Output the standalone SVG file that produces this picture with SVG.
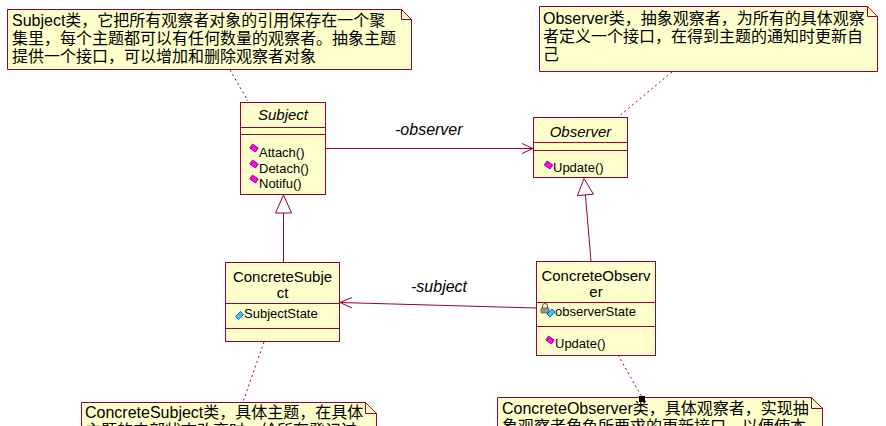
<svg xmlns="http://www.w3.org/2000/svg" width="886" height="426" viewBox="0 0 886 426">
<style>
.box{fill:#FFFFCC;stroke:#990033;stroke-width:1}
.ln{stroke:#990033;stroke-width:1;fill:none}
.dash{stroke:#990033;stroke-width:1;fill:none;stroke-dasharray:2,3}
.note{font-family:"Liberation Sans","Noto Sans CJK SC",sans-serif;font-size:16px;fill:#000}
.name{font-family:"Liberation Sans",Arial,sans-serif;font-size:15px;fill:#000;text-anchor:middle}
.abs{font-style:italic}
.mem{font-family:"Liberation Sans",Arial,sans-serif;font-size:13px;fill:#000}
.lbl{font-family:"Liberation Sans",Arial,sans-serif;font-size:16px;font-style:italic;fill:#000}
.op{fill:#FF00FF;stroke:#800060;stroke-width:0.8}
.at{fill:#33CCFF;stroke:#0044AA;stroke-width:0.8}
</style>
<defs>
<g id="opIcon"><rect x="-3.5" y="-2.4" width="7" height="4.8" transform="rotate(35)" class="op"/></g>
<g id="atIcon"><polygon points="-4,1 1,-4 4,-1 -1,4" class="at"/></g>
</defs>

<g id="connectors">
<line class="dash" x1="230" y1="70" x2="248" y2="101"/>
<line class="dash" x1="672" y1="72" x2="618" y2="117"/>
<line class="dash" x1="264" y1="342" x2="243" y2="402"/>
<line class="dash" x1="618" y1="355" x2="642" y2="397"/>
<rect x="616" y="351" width="4" height="4" fill="#000"/>
<line class="ln" x1="325" y1="148.5" x2="533" y2="148.5"/>
<polyline class="ln" points="522,143.5 533,148.5 522,153.5"/>
<text class="lbl" x="395" y="135">-observer</text>
<line class="ln" x1="536" y1="308" x2="340" y2="302.5"/>
<polyline class="ln" points="352,297.5 340,302.5 352,308"/>
<text class="lbl" x="411" y="292">-subject</text>
<polygon class="ln" points="283.5,195 275.5,213 291.5,213" fill="#fff"/>
<line class="ln" x1="283.5" y1="213" x2="283.5" y2="262"/>
<polygon class="ln" points="584,178.5 593.4,194.2 577.4,195.6" fill="#fff"/>
<line class="ln" x1="585.4" y1="194.9" x2="591" y2="261"/>
</g>

<g id="note-subject">
<polygon class="box" points="7.5,9.5 401.5,9.5 411.5,19.5 411.5,69.5 7.5,69.5"/>
<polyline class="ln" points="401.5,9.5 401.5,19.5 411.5,19.5"/>
<text class="note" x="12" y="26">Subject类，它把所有观察者对象的引用保存在一个聚</text>
<text class="note" x="12" y="44">集里，每个主题都可以有任何数量的观察者。抽象主题</text>
<text class="note" x="12" y="62">提供一个接口，可以增加和删除观察者对象</text>
</g>

<g id="note-observer">
<polygon class="box" points="539.5,6.5 867.5,6.5 877.5,16.5 877.5,71.5 539.5,71.5"/>
<polyline class="ln" points="867.5,6.5 867.5,16.5 877.5,16.5"/>
<text class="note" x="543" y="24">Observer类，抽象观察者，为所有的具体观察</text>
<text class="note" x="543" y="42">者定义一个接口，在得到主题的通知时更新自</text>
<text class="note" x="543" y="60">己</text>
</g>

<g id="subject">
<rect class="box" x="240.5" y="102.5" width="85" height="92"/>
<line class="ln" x1="240.5" y1="127.5" x2="325.5" y2="127.5"/>
<line class="ln" x1="240.5" y1="134.5" x2="325.5" y2="134.5"/>
<text class="name abs" x="283" y="120">Subject</text>
<use href="#opIcon" x="254" y="148"/>
<text class="mem" x="259" y="157">Attach()</text>
<use href="#opIcon" x="254" y="164"/>
<text class="mem" x="259" y="173">Detach()</text>
<use href="#opIcon" x="254" y="179"/>
<text class="mem" x="259" y="188">Notifu()</text>
</g>

<g id="observer">
<rect class="box" x="533.5" y="117.5" width="94" height="60"/>
<line class="ln" x1="533.5" y1="142.5" x2="627.5" y2="142.5"/>
<line class="ln" x1="533.5" y1="150.5" x2="627.5" y2="150.5"/>
<text class="name abs" x="580.5" y="137">Observer</text>
<use href="#opIcon" x="548.5" y="165"/>
<text class="mem" x="553" y="172">Update()</text>
</g>

<g id="concrete-subject">
<rect class="box" x="225.5" y="262.5" width="114" height="79"/>
<line class="ln" x1="225.5" y1="303.5" x2="339.5" y2="303.5"/>
<line class="ln" x1="225.5" y1="328.5" x2="339.5" y2="328.5"/>
<text class="name" x="282.5" y="282">ConcreteSubje</text>
<text class="name" x="282.5" y="298">ct</text>
<use href="#atIcon" x="239.5" y="315.5"/>
<text class="mem" x="244" y="318">SubjectState</text>
</g>

<g id="concrete-observer">
<rect class="box" x="536.5" y="261.5" width="119" height="94"/>
<line class="ln" x1="536.5" y1="302.5" x2="655.5" y2="302.5"/>
<line class="ln" x1="536.5" y1="326.5" x2="655.5" y2="326.5"/>
<text class="name" x="596" y="281">ConcreteObserv</text>
<text class="name" x="596" y="297">er</text>
<path d="M542.5,308 v-2 a2.5,2.5 0 0 1 5,0 v2" fill="none" stroke="#555" stroke-width="1"/>
<rect x="541" y="308" width="8" height="5" rx="1" fill="#999" stroke="#444" stroke-width="0.7"/>
<use href="#atIcon" x="551" y="313"/>
<text class="mem" x="555" y="316">observerState</text>
<use href="#opIcon" x="550" y="340"/>
<text class="mem" x="555" y="348">Update()</text>
</g>

<g id="note-concrete-subject">
<polygon class="box" points="81.5,402.5 365.5,402.5 376.5,413.5 376.5,470 81.5,470"/>
<polyline class="ln" points="365.5,402.5 365.5,413.5 376.5,413.5"/>
<text class="note" x="85" y="418">ConcreteSubject类，具体主题，在具体</text>
<text class="note" x="85" y="436">主题的内部状态改变时，给所有登记过</text>
</g>

<g id="note-concrete-observer">
<polygon class="box" points="497.5,397.5 811.5,397.5 822.5,408.5 822.5,470 497.5,470"/>
<polyline class="ln" points="811.5,397.5 811.5,408.5 822.5,408.5"/>
<text class="note" x="502" y="414">ConcreteObserver类，具体观察者，实现抽</text>
<text class="note" x="502" y="432">象观察者角色所要求的更新接口，以便使本</text>
<rect x="639" y="396" width="6" height="6" fill="#000"/>
</g>
</svg>
